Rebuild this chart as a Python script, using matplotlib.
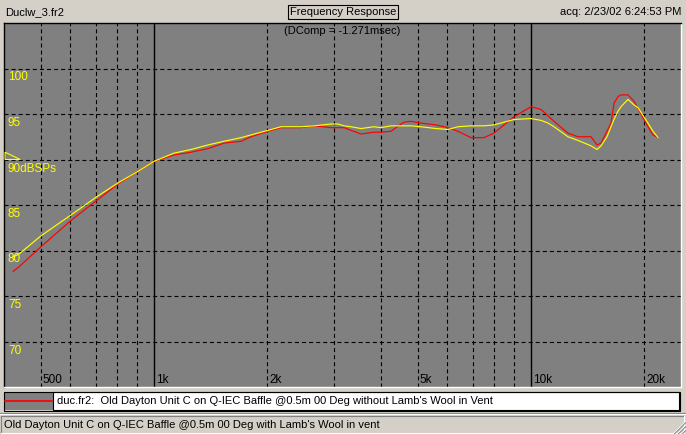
import matplotlib
matplotlib.use('Agg')
import matplotlib.pyplot as plt
from matplotlib.patches import Rectangle, Polygon

# frequency points (Hz)
freq_hz = [423, 438, 501, 602, 710, 808, 907, 1000, 1130, 1253, 1391, 1533, 1701, 1808,
           2006, 2172, 2454, 2658, 2949, 3076, 3192, 3332, 3540, 3833, 4001, 4253, 4521,
           4603, 4805, 5108, 5598, 6024, 6404, 6932, 7504, 7977, 8480, 9015, 10000, 10630,
           11100, 11510, 12530, 13320, 14430, 14970, 15340, 15910, 16300, 16610, 17010,
           17330, 18080, 18760, 19220, 20430, 21070, 21730]

# yellow trace: with lamb's wool (current measurement)
with_wool_db = [79.3, 79.6, 81.6, 83.9, 86.0, 87.5, 88.7, 89.8, 90.7, 91.1, 91.6, 92.0, 92.4, 92.7,
                93.2, 93.6, 93.6, 93.7, 93.9, 93.9, 93.7, 93.6, 93.4, 93.6, 93.5, 93.7, 93.7,
                93.7, 93.7, 93.6, 93.4, 93.3, 93.6, 93.7, 93.7, 93.8, 94.1, 94.4, 94.5, 94.3,
                94.0, 93.6, 92.5, 92.1, 91.5, 91.1, 91.5, 92.5, 93.6, 94.4, 95.3,
                95.8, 96.6, 96.0, 95.7, 94.0, 93.1, 92.4]

# red trace: duc.fr2, without lamb's wool
without_wool_db = [77.7, 78.2, 80.4, 83.3, 85.6, 87.4, 88.7, 89.8, 90.5, 90.8, 91.2, 91.8, 92.0, 92.5,
                   93.1, 93.5, 93.5, 93.7, 93.5, 93.5, 93.5, 93.2, 92.8, 93.0, 93.0, 93.1, 93.9,
                   94.1, 94.2, 94.0, 93.8, 93.5, 93.1, 92.4, 92.4, 92.9, 93.8, 94.7, 95.8, 95.5,
                   94.8, 94.2, 92.9, 92.5, 92.5, 91.6, 91.8, 93.1, 94.0, 96.2, 96.9,
                   97.1, 97.1, 96.4, 95.6, 93.6, 92.7, 92.4]

grid_dashed_hz = [500, 600, 700, 800, 900, 2000, 3000, 4000, 5000, 6000, 7000, 8000, 9000, 20000]
grid_solid_hz = [1000, 10000]
grid_db = [70, 75, 80, 85, 90, 95, 100]

x_tick_hz = [500, 1000, 2000, 5000, 10000, 20000]
x_tick_labels = ['500', '1k', '2k', '5k', '10k', '20k']
y_tick_db = [100, 95, 90, 85, 80, 75, 70]
y_tick_labels = ['100', '95', '90dBSPs', '85', '80', '75', '70']
ref_level_db = 90

WIN_BG = '#D4D0C8'
PLOT_BG = '#808080'
W, H = 686, 434

plt.rcParams['font.family'] = ['Liberation Sans', 'DejaVu Sans']
plt.rcParams['lines.scale_dashes'] = False
dash = (0, (2.9, 2.2))

fig = plt.figure(figsize=(W / 100, H / 100), dpi=100, facecolor=WIN_BG)

# window chrome drawn in pixel coordinates
chrome = fig.add_axes([0, 0, 1, 1])
chrome.set_xlim(0, W)
chrome.set_ylim(H, 0)
chrome.axis('off')
chrome.set_zorder(0)

ax = fig.add_axes([4 / W, 47 / H, 677 / W, 364 / H])
ax.set_zorder(1)
ax.set_facecolor(PLOT_BG)
ax.set_xscale('log')
ax.set_xlim(400, 25000)
ax.set_ylim(65, 105)
ax.set_xticks([])
ax.set_yticks([])
ax.minorticks_off()
for side in ['top', 'left']:
    ax.spines[side].set_color('black')
for side in ['bottom', 'right']:
    ax.spines[side].set_color('white')
for s in ax.spines.values():
    s.set_linewidth(1)

# grid
for f in grid_dashed_hz:
    ax.axvline(f, color='black', lw=0.8, ls=dash, zorder=1)
for f in grid_solid_hz:
    ax.axvline(f, color='black', lw=1.0, zorder=1)
for d in grid_db:
    ax.axhline(d, color='black', lw=0.8, ls=dash, zorder=1)

# traces
ax.plot(freq_hz, without_wool_db, color='#FF0000', lw=0.85, zorder=3)
ax.plot(freq_hz, with_wool_db, color='#FFFF00', lw=0.85, zorder=4)

# labels inside the plot
for f, lab in zip(x_tick_hz, x_tick_labels):
    ax.annotate(lab, xy=(f, 0), xycoords=('data', 'axes fraction'), xytext=(2, 7),
                textcoords='offset pixels', ha='left', va='center', fontsize=8.5, color='black')
for d, lab in zip(y_tick_db, y_tick_labels):
    ax.annotate(lab, xy=(0, d), xycoords=('axes fraction', 'data'), xytext=(4, -9),
                textcoords='offset pixels', ha='left', va='center', fontsize=8.5, color='#FFFF00')

# reference level marker
tri = Polygon([(0.0015, ref_level_db), (0.024, ref_level_db), (0.0015, ref_level_db + 0.8)],
              closed=True, fill=False, ec='#FFFF00', lw=0.8, transform=ax.get_yaxis_transform(),
              zorder=5)
ax.add_patch(tri)

ax.annotate('(DComp = -1.271msec)', xy=(0.5, 1), xycoords='axes fraction', xytext=(0, -8),
            textcoords='offset pixels', ha='center', va='center', fontsize=8, color='black')

# title bar texts
chrome.text(5, 12, 'Duclw_3.fr2', ha='left', va='center', fontsize=8)
chrome.text(343, 12, 'Frequency Response', ha='center', va='center', fontsize=8,
            bbox=dict(boxstyle='square,pad=0.2', fc=WIN_BG, ec='black', lw=0.8))
chrome.text(681, 12, 'acq: 2/23/02 6:24:53 PM', ha='right', va='center', fontsize=8)

# legend strip
chrome.add_patch(Rectangle((4, 392), 49, 18, fc=PLOT_BG, ec='none'))
chrome.plot([5, 52], [401, 401], color='#FF0000', lw=1.2)
chrome.add_patch(Rectangle((53, 392), 626, 18, fc='white', ec='black', lw=0.8))
chrome.add_patch(Rectangle((3.5, 391.5), 676, 19, fc='none', ec='black', lw=0.8))
chrome.text(57, 401, "duc.fr2:  Old Dayton Unit C on Q-IEC Baffle @0.5m 00 Deg without Lamb's Wool in Vent",
            ha='left', va='center', fontsize=8)

# status bar
chrome.plot([0, W], [412.5, 412.5], color='#808080', lw=0.8)
chrome.plot([0, W], [413.5, 413.5], color='white', lw=0.8)
chrome.plot([1, 684], [416, 416], color='#808080', lw=0.8)
chrome.plot([1, 1], [416, 433], color='#808080', lw=0.8)
chrome.plot([1, 684], [433, 433], color='white', lw=0.8)
chrome.plot([684, 684], [416, 433], color='white', lw=0.8)
chrome.text(4, 425, "Old Dayton Unit C on Q-IEC Baffle @0.5m 00 Deg with Lamb's Wool in vent",
            ha='left', va='center', fontsize=8)
for k in [4, 8, 12]:
    chrome.plot([W - k, W], [H, H - k], color='#808080', lw=1.0)
    chrome.plot([W - k - 1, W], [H, H - k - 1], color='white', lw=0.6)

fig.savefig('out.png', dpi=100, facecolor=WIN_BG)
